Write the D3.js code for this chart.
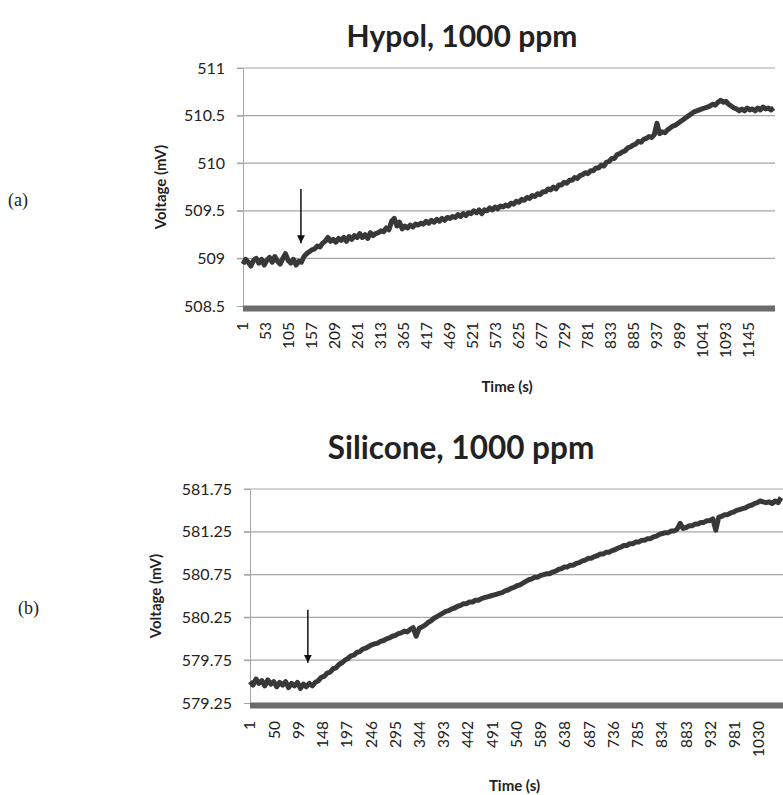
<!DOCTYPE html>
<html>
<head>
    <meta charset="utf-8">
    <style>
        body { margin: 0; background: #fff; }
        svg { display: block; }
        .tick-y, .tick-x { font: 16px Lato, "Open Sans", sans-serif; fill: #222; }
        .tick-x { font-size: 15.5px; }
        .axis-title { font: bold 15px Lato, "Open Sans", sans-serif; fill: #222; }
        .chart-title { font: bold 30px Lato, "Open Sans", sans-serif; fill: #222; }
        .panel-label { font: 18px "Liberation Serif", "DejaVu Serif", serif; fill: #222; }
    </style>
</head>
<body>
    <svg width="783" height="795"></svg>

    <script src="https://d3js.org/d3.v7.min.js"></script>

    <script>
        // ---- (a) Hypol, 1000 ppm : one reading every 6 s, starting at 1 ----
        var hypolStep = 6;
        var hypolVolt = [
            508.94, 508.99, 508.96, 508.92, 508.98, 509.00, 508.95, 508.99, 508.93, 508.98, 509.01,
            508.96, 509.02, 508.97, 508.94, 509.00, 509.05, 508.98, 508.95, 508.99, 508.93, 508.97,
            508.96, 509.02, 509.05, 509.07, 509.09, 509.10, 509.13, 509.12, 509.16, 509.18, 509.22,
            509.18, 509.20, 509.17, 509.21, 509.19, 509.22, 509.18, 509.23, 509.20, 509.24, 509.22,
            509.26, 509.22, 509.25, 509.21, 509.27, 509.24, 509.26, 509.27, 509.29, 509.28, 509.32,
            509.30, 509.39, 509.42, 509.34, 509.38, 509.31, 509.34, 509.32, 509.35, 509.33, 509.36,
            509.35, 509.37, 509.36, 509.39, 509.37, 509.40, 509.38, 509.41, 509.39, 509.42, 509.40,
            509.43, 509.42, 509.44, 509.43, 509.46, 509.44, 509.47, 509.45, 509.48, 509.47, 509.50,
            509.48, 509.51, 509.47, 509.51, 509.50, 509.53, 509.51, 509.54, 509.52, 509.55, 509.54,
            509.56, 509.55, 509.58, 509.57, 509.60, 509.59, 509.62, 509.61, 509.64, 509.63, 509.66,
            509.65, 509.68, 509.67, 509.70, 509.70, 509.73, 509.72, 509.75, 509.73, 509.77, 509.77,
            509.80, 509.79, 509.82, 509.82, 509.85, 509.84, 509.87, 509.88, 509.90, 509.89, 509.92,
            509.92, 509.95, 509.95, 509.98, 509.97, 510.01, 510.02, 510.05, 510.05, 510.09, 510.10,
            510.12, 510.13, 510.16, 510.17, 510.19, 510.20, 510.23, 510.22, 510.25, 510.26, 510.28,
            510.27, 510.30, 510.42, 510.31, 510.33, 510.32, 510.35, 510.37, 510.39, 510.40, 510.42,
            510.44, 510.46, 510.48, 510.50, 510.52, 510.54, 510.55, 510.56, 510.57, 510.58, 510.59,
            510.60, 510.62, 510.61, 510.64, 510.66, 510.64, 510.65, 510.62, 510.60, 510.58, 510.57,
            510.55, 510.57, 510.55, 510.58, 510.56, 510.57, 510.55, 510.58, 510.56, 510.59, 510.57,
            510.58, 510.56, 510.58];
        var hypolTicks = [1, 53, 105, 157, 209, 261, 313, 365, 417, 469, 521, 573, 625, 677, 729, 781,
            833, 885, 937, 989, 1041, 1093, 1145];
        var hypolYTicks = [508.5, 509, 509.5, 510, 510.5, 511];
        var hypolArrow = { t: 132, from: 509.73, to: 509.16 };

        // ---- (b) Silicone, 1000 ppm : one reading every 6 s, starting at 1 ----
        var siliStep = 6;
        var siliVolt = [
            579.50, 579.46, 579.53, 579.48, 579.51, 579.45, 579.52, 579.47, 579.50, 579.44, 579.49,
            579.46, 579.50, 579.43, 579.48, 579.45, 579.49, 579.42, 579.47, 579.44, 579.48, 579.45,
            579.49, 579.51, 579.55, 579.56, 579.60, 579.61, 579.65, 579.66, 579.70, 579.72, 579.75,
            579.77, 579.80, 579.81, 579.84, 579.85, 579.88, 579.89, 579.91, 579.93, 579.94, 579.95,
            579.97, 579.98, 580.00, 580.01, 580.03, 580.04, 580.06, 580.07, 580.09, 580.08, 580.11,
            580.13, 580.03, 580.12, 580.14, 580.16, 580.19, 580.21, 580.24, 580.26, 580.28, 580.30,
            580.32, 580.33, 580.35, 580.36, 580.38, 580.39, 580.41, 580.41, 580.43, 580.43, 580.45,
            580.45, 580.47, 580.48, 580.49, 580.50, 580.51, 580.52, 580.53, 580.54, 580.56, 580.57,
            580.59, 580.60, 580.62, 580.63, 580.65, 580.67, 580.69, 580.70, 580.72, 580.72, 580.74,
            580.75, 580.76, 580.76, 580.78, 580.79, 580.81, 580.82, 580.84, 580.84, 580.86, 580.86,
            580.88, 580.89, 580.91, 580.92, 580.94, 580.94, 580.96, 580.97, 580.99, 580.99, 581.01,
            581.01, 581.03, 581.04, 581.06, 581.07, 581.09, 581.09, 581.11, 581.11, 581.13, 581.13,
            581.15, 581.15, 581.17, 581.17, 581.19, 581.20, 581.22, 581.23, 581.24, 581.24, 581.26,
            581.26, 581.28, 581.35, 581.29, 581.30, 581.32, 581.32, 581.34, 581.34, 581.36, 581.36,
            581.38, 581.38, 581.40, 581.27, 581.42, 581.43, 581.45, 581.45, 581.47, 581.48, 581.50,
            581.51, 581.52, 581.53, 581.55, 581.56, 581.58, 581.59, 581.61, 581.60, 581.59, 581.60,
            581.58, 581.61, 581.59, 581.65];
        var siliTicks = [1, 50, 99, 148, 197, 246, 295, 344, 393, 442, 491, 540, 589, 638, 687, 736,
            785, 834, 883, 932, 981, 1030];
        var siliYTicks = [579.25, 579.75, 580.25, 580.75, 581.25, 581.75];
        var siliArrow = { t: 118, from: 580.34, to: 579.72 };

        var svg = d3.select("svg");

        svg.append("defs").append("marker")
            .attr("id", "arrowhead")
            .attr("viewBox", "0 0 10 10")
            .attr("refX", 10).attr("refY", 5)
            .attr("markerWidth", 8).attr("markerHeight", 8)
            .attr("markerUnits", "userSpaceOnUse")
            .attr("orient", "auto")
            .append("path").attr("d", "M0,0 L10,5 L0,10 z").attr("fill", "#111");

        function drawChart(opt) {
            var g = svg.append("g");
            var x = d3.scaleLinear().domain(opt.xDomain).range([opt.left, opt.right]);
            var y = d3.scaleLinear().domain(opt.yDomain).range([opt.bottom, opt.top]);

            // gridlines
            g.selectAll(".grid").data(opt.yTicks.slice(1)).enter().append("line")
                .attr("x1", opt.left - 6).attr("x2", opt.right)
                .attr("y1", function(d) { return y(d); })
                .attr("y2", function(d) { return y(d); })
                .attr("stroke", "#a6a6a6").attr("stroke-width", 1.2);

            // y axis
            var yAxis = d3.axisLeft(y).tickValues(opt.yTicks).tickSize(6).tickPadding(12)
                .tickFormat(function(d) { return opt.fmt(d); });
            var ya = g.append("g").attr("transform", "translate(" + opt.left + ",0)").call(yAxis);
            ya.select(".domain").attr("stroke", "#a6a6a6");
            ya.selectAll(".tick line").attr("stroke", "#a6a6a6");
            ya.selectAll(".tick text").attr("class", "tick-y").attr("fill", null);
            ya.attr("font-family", null).attr("font-size", null);

            // thick bottom band (category axis)
            g.append("rect")
                .attr("x", opt.left).attr("y", opt.bottom - 0.5)
                .attr("width", opt.right - opt.left).attr("height", 6)
                .attr("fill", "#6b6b6b");

            // x tick labels, rotated
            g.selectAll(".xl").data(opt.xTicks).enter().append("text")
                .attr("class", "tick-x")
                .attr("transform", function(d) {
                    return "translate(" + x(d) + "," + (opt.bottom + opt.xLabelGap) + ") rotate(-90)";
                })
                .attr("text-anchor", "end")
                .attr("dy", "0.35em")
                .text(function(d) { return d; });

            // data line
            var line = d3.line()
                .x(function(d, i) { return x(1 + i * opt.step); })
                .y(function(d) { return y(d); });
            g.append("path").datum(opt.volt)
                .attr("d", line)
                .attr("fill", "none")
                .attr("stroke", "#383838")
                .attr("stroke-width", 5)
                .attr("stroke-linejoin", "round");

            // arrow
            g.append("line")
                .attr("x1", x(opt.arrow.t)).attr("x2", x(opt.arrow.t))
                .attr("y1", y(opt.arrow.from)).attr("y2", y(opt.arrow.to))
                .attr("stroke", "#111").attr("stroke-width", 1.5)
                .attr("marker-end", "url(#arrowhead)");

            // titles
            g.append("text").attr("class", "chart-title")
                .attr("x", opt.titleX).attr("y", opt.titleY)
                .attr("text-anchor", "middle")
                .style("font-size", opt.titleSize + "px")
                .text(opt.title);
            g.append("text").attr("class", "axis-title")
                .attr("transform", "translate(" + opt.yTitleX + "," + ((opt.top + opt.bottom) / 2) + ") rotate(-90)")
                .attr("text-anchor", "middle").text("Voltage (mV)");
            g.append("text").attr("class", "axis-title")
                .attr("x", (opt.left + opt.right) / 2 - 2).attr("y", opt.xTitleY)
                .attr("text-anchor", "middle").text("Time (s)");
            g.append("text").attr("class", "panel-label")
                .attr("x", opt.panelX).attr("y", opt.panelY)
                .text(opt.panel);
        }

        drawChart({
            volt: hypolVolt, step: hypolStep, xTicks: hypolTicks, yTicks: hypolYTicks,
            arrow: hypolArrow, fmt: d3.format(""),
            xDomain: [1, 1204], yDomain: [508.5, 511],
            left: 243, right: 775, top: 68, bottom: 306, xLabelGap: 16,
            title: "Hypol, 1000 ppm", titleX: 462, titleY: 47, titleSize: 30,
            yTitleX: 166, xTitleY: 392, panel: "(a)", panelX: 8, panelY: 206
        });

        drawChart({
            volt: siliVolt, step: siliStep, xTicks: siliTicks, yTicks: siliYTicks,
            arrow: siliArrow, fmt: d3.format(".2f"),
            xDomain: [1, 1079], yDomain: [579.25, 581.75],
            left: 250, right: 783, top: 489, bottom: 703, xLabelGap: 18,
            title: "Silicone, 1000 ppm", titleX: 461, titleY: 459, titleSize: 31.5,
            yTitleX: 161, xTitleY: 791, panel: "(b)", panelX: 18, panelY: 614
        });
    </script>
</body>
</html>
